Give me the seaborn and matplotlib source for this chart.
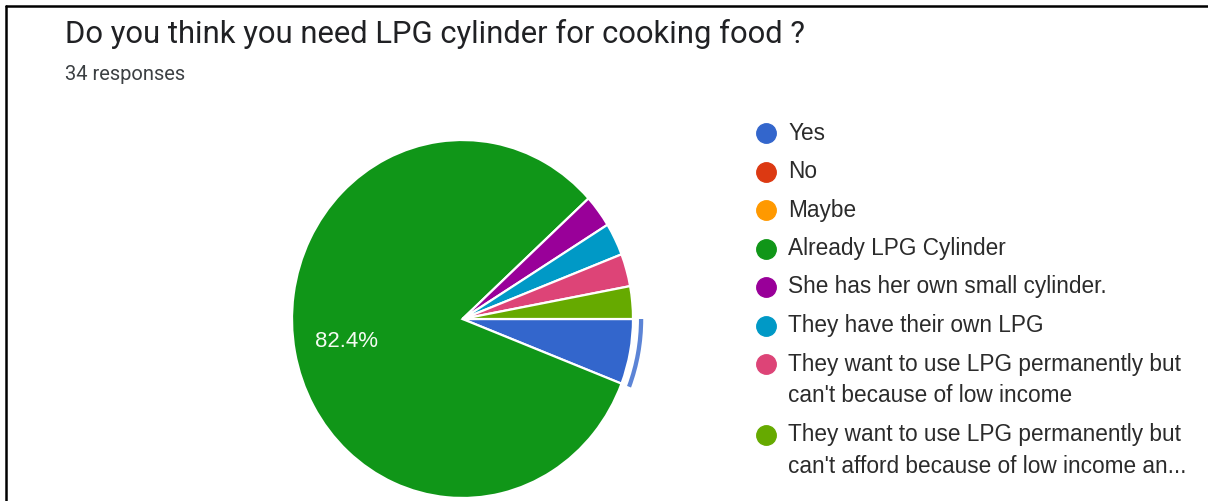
import matplotlib
matplotlib.use("Agg")
import matplotlib.pyplot as plt
from matplotlib.lines import Line2D
import seaborn as sns

# Survey answers (legend order) and response counts
categories = [
    "Yes",
    "No",
    "Maybe",
    "Already LPG Cylinder",
    "She has her own small cylinder.",
    "They have their own LPG",
    "They want to use LPG permanently but\ncan't because of low income",
    "They want to use LPG permanently but\ncan't afford because of low income an...",
]
counts = [2, 0, 0, 28, 1, 1, 1, 1]
colors = ["#3366cc", "#dc3912", "#ff9900", "#109618",
          "#990099", "#0099c6", "#dd4477", "#66aa00"]
title = "Do you think you need LPG cylinder for cooking food ?"
subtitle = "34 responses"
highlighted = "Yes"

sns.set_theme(style="white")
plt.rcParams["font.family"] = ["Liberation Sans", "DejaVu Sans"]

W, H = 1208, 501
fig = plt.figure(figsize=(W / 100, H / 100), dpi=100)
fig.patch.set_facecolor("white")

# pie axes: centre at (462.5, 319) px, radius 170.5 px wide x 179 px tall
lim = 1.08
rx, ry = 170.5, 179.0
cx, cy = 462.5, H - 319
ax = fig.add_axes([(cx - lim * rx) / W, (cy - lim * ry) / H,
                   2 * lim * rx / W, 2 * lim * ry / H])

vals = [v for v in counts if v > 0]
cols = [c for c, v in zip(colors, counts) if v > 0]
names = [n for n, v in zip(categories, counts) if v > 0]

wedges, texts, autotexts = ax.pie(
    vals, colors=cols, startangle=0, counterclock=False,
    autopct=lambda p: f"{p:.1f}%" if p > 10 else "",
    pctdistance=0.69,
    wedgeprops=dict(edgecolor="white", linewidth=1.6),
    textprops=dict(color="#f4fbf2", fontsize=16),
)

# hover-style ring around the highlighted slice
ring_cols = [c if n == highlighted else "none" for c, n in zip(cols, names)]
ax.pie(vals, colors=ring_cols, startangle=0, counterclock=False,
       radius=1.06, wedgeprops=dict(width=0.025, edgecolor="none", alpha=0.8))

ax.set_aspect("auto")
ax.set_xlim(-lim, lim)
ax.set_ylim(-lim, lim)
ax.axis("off")

# heading
fig.text(65 / W, 1 - 43 / H, title, fontsize=22.3, color="#202124",
         family=["Roboto", "DejaVu Sans"], va="baseline", ha="left")
fig.text(65 / W, 1 - 80 / H, subtitle, fontsize=14.5, color="#3c4043",
         family=["Roboto", "DejaVu Sans"], va="baseline", ha="left")

# legend column
y = 133.0
for name, col in zip(categories, colors):
    fig.add_artist(Line2D([766.5 / W], [1 - y / H], marker="o", markersize=14,
                          color=col, linestyle="none", transform=fig.transFigure))
    lines = name.split("\n")
    for i, line in enumerate(lines):
        fig.text(788 / W, 1 - (y + 32 * i) / H, line, fontsize=16.3,
                 color="#2b2b2b", va="center", ha="left")
    y += 32 * (len(lines) - 1) + 38.5

# frame lines on top and left
fig.add_artist(Line2D([6 / W, 1], [1 - 6 / H, 1 - 6 / H], color="black",
                      linewidth=1.8, transform=fig.transFigure))
fig.add_artist(Line2D([6 / W, 6 / W], [0, 1 - 6 / H], color="black",
                      linewidth=1.8, transform=fig.transFigure))

fig.savefig("out.png", dpi=100, facecolor="white")
